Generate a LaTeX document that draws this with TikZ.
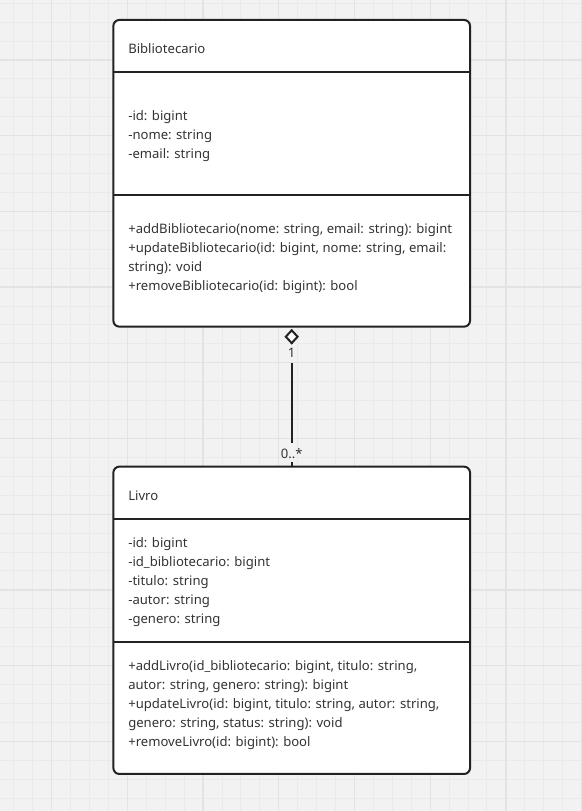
\documentclass[tikz,border=0pt]{standalone}
\usepackage{fontspec}
\setmainfont{Noto Sans}
\usetikzlibrary{shapes.geometric}
\definecolor{bgc}{HTML}{F2F2F2}
\definecolor{gridminor}{HTML}{EAEAEA}
\definecolor{gridmajor}{HTML}{E3E3E3}
\definecolor{ink}{HTML}{222222}
\definecolor{txtc}{HTML}{333333}
\begin{document}
\begin{tikzpicture}[x=0.75pt,y=-0.75pt,
  umlbox/.style={draw=ink, line width=1.5pt, fill=white, rounded corners=4.5pt,
    minimum width=267.5pt, inner sep=0pt, outer sep=0pt},
  sepline/.style={draw=ink, line width=1.5pt},
  txt/.style={anchor=base west, inner sep=0pt, outer sep=0pt,
    font=\fontsize{9.82pt}{14.25pt}\selectfont, text=txtc},
  mult/.style={inner sep=0pt, outer sep=0pt, minimum height=14pt,
    text height=9pt, text depth=0pt,
    font=\fontsize{9.82pt}{14.25pt}\selectfont, text=txtc},
  conn/.style={draw=ink, line width=1.5pt},
  aggdiamond/.style={diamond, draw=ink, fill=white, line width=1.5pt, inner sep=0pt,
    outer sep=0pt, minimum width=8.8pt, minimum height=9.6pt},
  minorgrid/.style={draw=gridminor, line width=0.75pt},
  majorgrid/.style={draw=gridmajor, line width=1pt}]
\useasboundingbox (0,0) rectangle (582,811);
\fill[bgc] (0,0) rectangle (582,811);
% grid
\foreach \k in {-2,...,28} {
  \pgfmathsetmacro\xx{51.7+18.925*\k}
  \draw[minorgrid] (\xx,0) -- (\xx,811);
}
\foreach \k in {-3,...,39} {
  \pgfmathsetmacro\yy{60+18.925*\k}
  \draw[minorgrid] (0,\yy) -- (582,\yy);
}
\foreach \k in {0,...,7} {
  \pgfmathsetmacro\xx{51.7+75.7*\k}
  \draw[majorgrid] (\xx,0) -- (\xx,811);
}
\foreach \k in {0,...,9} {
  \pgfmathsetmacro\yy{60+75.7*\k}
  \draw[majorgrid] (0,\yy) -- (582,\yy);
}
% boxes
\node[umlbox, minimum height=230pt] (biblio) at (291.7,173.3) {};
\node[umlbox, minimum height=230.5pt] (livro) at (291.7,620.3) {};
\coordinate (s1) at (0,72);
\coordinate (s2) at (0,195);
\coordinate (s3) at (0,519.3);
\coordinate (s4) at (0,642);
\draw[sepline] (biblio.west |- s1) -- (biblio.east |- s1);
\draw[sepline] (biblio.west |- s2) -- (biblio.east |- s2);
\draw[sepline] (livro.west |- s3) -- (livro.east |- s3);
\draw[sepline] (livro.west |- s4) -- (livro.east |- s4);
% texts Bibliotecario
\node[txt] (bh) at (128.3,53.3) {Bibliotecario};
\foreach \t [count=\i] in {{-id: bigint},{-nome: string},{-email: string}}
  \node[txt] (ba\i) at (128.3,{120+19*(\i-1)}) {\t};
\foreach \t [count=\i] in {{+addBibliotecario(nome: string, email: string): bigint},
    {+updateBibliotecario(id: bigint, nome: string, email:},
    {string): void},
    {+removeBibliotecario(id: bigint): bool}}
  \node[txt] (bm\i) at (128.3,{233.3+19*(\i-1)}) {\t};
% texts Livro
\node[txt] (lh) at (128.3,500) {Livro};
\foreach \t [count=\i] in {{-id: bigint},{-id\_bibliotecario: bigint},{-titulo: string},{-autor: string},{-genero: string}}
  \node[txt] (la\i) at (128.3,{547.3+19*(\i-1)}) {\t};
\foreach \t [count=\i] in {{+addLivro(id\_bibliotecario: bigint, titulo: string,},
    {autor: string, genero: string): bigint},
    {+updateLivro(id: bigint, titulo: string, autor: string,},
    {genero: string, status: string): void},
    {+removeLivro(id: bigint): bool}}
  \node[txt] (lm\i) at (128.3,{670.7+19*(\i-1)}) {\t};
% multiplicities
\node[mult, text height=5.6pt] (m1) at (291.7,353.3) {1};
\node[mult] (m2) at (291.7,452.5) {0..*};
% connector with aggregation diamond
\node[aggdiamond] (dia) at (291.7,336.7) {};
\draw[conn] (dia.south) -- (m1.north);
\draw[conn] (m1.south) -- (m2.north);
\draw[conn] (m2.south) -- (livro.north);
\end{tikzpicture}
\end{document}
